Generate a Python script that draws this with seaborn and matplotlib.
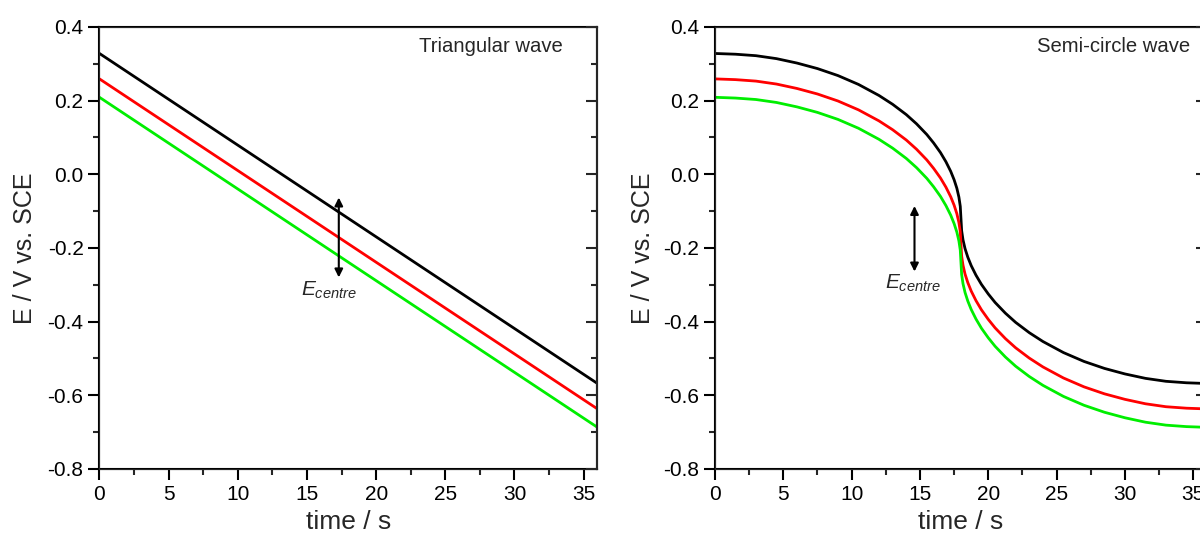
import pandas as pd
import seaborn as sns
import matplotlib.pyplot as plt
from matplotlib.ticker import MultipleLocator, FormatStrFormatter

# Triangular wave: straight lines, start and end values
TRI_TIME = [0, 36]
TRI_BLACK = [0.328, -0.568]
TRI_RED = [0.259, -0.637]
TRI_GREEN = [0.209, -0.687]

# Semi-circle wave: values
SEMI_TIME = [0, 1.5, 3, 4.5, 6, 7.5, 9, 10.5, 12, 13, 14, 14.75, 15.5, 16, 16.5, 16.9,
             17.25, 17.5, 17.7, 17.85, 17.95, 18,
             18.05, 18.15, 18.3, 18.5, 18.75, 19.1, 19.5, 20, 20.5, 21.25, 22, 23, 24,
             25.5, 27, 28.5, 30, 31.5, 33, 34.5, 36]
SEMI_BLACK = [0.328, 0.326, 0.322, 0.314, 0.302, 0.287, 0.268, 0.244, 0.214, 0.190,
              0.162, 0.137, 0.108, 0.085, 0.059, 0.034, 0.008, -0.015, -0.038, -0.062,
              -0.087, -0.120,
              -0.153, -0.178, -0.202, -0.225, -0.248, -0.274, -0.299, -0.325, -0.348,
              -0.377, -0.402, -0.430, -0.454, -0.484, -0.508, -0.527, -0.542, -0.554,
              -0.562, -0.566, -0.568]
SEMI_RED = [0.259, 0.257, 0.253, 0.245, 0.233, 0.218, 0.199, 0.175, 0.145, 0.121,
            0.093, 0.068, 0.039, 0.016, -0.010, -0.035, -0.061, -0.084, -0.107, -0.131,
            -0.156, -0.189,
            -0.222, -0.247, -0.271, -0.294, -0.317, -0.343, -0.368, -0.394, -0.417,
            -0.446, -0.471, -0.499, -0.523, -0.553, -0.577, -0.596, -0.611, -0.623,
            -0.631, -0.635, -0.637]
SEMI_GREEN = [0.209, 0.207, 0.203, 0.195, 0.183, 0.168, 0.149, 0.125, 0.095, 0.071,
              0.043, 0.018, -0.011, -0.034, -0.060, -0.085, -0.111, -0.134, -0.157,
              -0.181, -0.206, -0.239,
              -0.272, -0.297, -0.321, -0.344, -0.367, -0.393, -0.418, -0.444, -0.467,
              -0.496, -0.521, -0.549, -0.573, -0.603, -0.627, -0.646, -0.661, -0.673,
              -0.681, -0.685, -0.687]

COLORS = ["black", "#ff0000", "#00ee00"]

sns.set_style("ticks")
plt.rcParams["font.family"] = ["Liberation Sans", "DejaVu Sans"]
plt.rcParams["axes.unicode_minus"] = False
plt.rcParams["mathtext.fontset"] = "custom"
plt.rcParams["mathtext.rm"] = "Liberation Sans"
plt.rcParams["mathtext.it"] = "Liberation Sans:italic"


def style_axis(ax, ylabel_x):
    ax.set_xlim(0, 36)
    ax.set_ylim(-0.8, 0.4)
    ax.xaxis.set_major_locator(MultipleLocator(5))
    ax.xaxis.set_minor_locator(MultipleLocator(2.5))
    ax.yaxis.set_major_locator(MultipleLocator(0.2))
    ax.yaxis.set_minor_locator(MultipleLocator(0.1))
    ax.yaxis.set_major_formatter(FormatStrFormatter("%.1f"))
    for side in ["left", "right", "top", "bottom"]:
        ax.spines[side].set_visible(True)
        ax.spines[side].set_linewidth(1.5)
        ax.spines[side].set_color("black")
    ax.tick_params(axis="both", which="major", direction="out", length=8, width=1.5,
                   labelsize=15, colors="black", left=True, bottom=True,
                   right=False, top=False)
    ax.tick_params(axis="both", which="minor", direction="out", length=4, width=1.5,
                   left=True, bottom=True, right=False, top=False)
    ax.set_xlabel("time / s", fontsize=19)
    ax.set_ylabel("E / V vs. SCE", fontsize=18)
    ax.xaxis.set_label_coords(0.5, -0.092)
    ax.yaxis.set_label_coords(ylabel_x, 0.5)
    ax.grid(False)

    # right-hand ticks point inwards, no labels
    twin = ax.twinx()
    twin.set_ylim(-0.8, 0.4)
    twin.yaxis.set_major_locator(MultipleLocator(0.2))
    twin.yaxis.set_minor_locator(MultipleLocator(0.1))
    twin.tick_params(axis="y", which="major", direction="in", length=8, width=1.5,
                     labelright=False, right=True, left=False)
    twin.tick_params(axis="y", which="minor", direction="in", length=4, width=1.5,
                     right=True, left=False)
    twin.spines["right"].set_linewidth(1.5)
    twin.grid(False)


def plot_lines(ax, t, series):
    for values, color in zip(series, COLORS):
        df = pd.DataFrame({"t": t, "E": values})
        sns.lineplot(data=df, x="t", y="E", color=color, linewidth=2, ax=ax,
                     estimator=None, sort=False)


fig = plt.figure(figsize=(12, 5.38), dpi=100)
ax1 = fig.add_axes([0.0829, 0.1283, 0.415, 0.8216])
ax2 = fig.add_axes([0.5958, 0.1283, 0.41, 0.8216])

plot_lines(ax1, TRI_TIME, [TRI_BLACK, TRI_RED, TRI_GREEN])
plot_lines(ax2, SEMI_TIME, [SEMI_BLACK, SEMI_RED, SEMI_GREEN])

style_axis(ax1, -0.1255)
style_axis(ax2, -0.122)

arrow_props = dict(arrowstyle="<|-|>", color="black", lw=1.5, mutation_scale=12,
                   shrinkA=0, shrinkB=0)
ax1.annotate("", xy=(17.3, -0.063), xytext=(17.3, -0.28), arrowprops=arrow_props)
ax1.text(16.6, -0.315, "$E_{centre}$", fontsize=15, ha="center", va="center")
ax2.annotate("", xy=(14.6, -0.086), xytext=(14.6, -0.264), arrowprops=arrow_props)
ax2.text(14.5, -0.295, "$E_{centre}$", fontsize=15, ha="center", va="center")

ax1.text(0.931, 0.955, "Triangular wave", transform=ax1.transAxes, fontsize=14.6,
         ha="right", va="center")
ax2.text(0.965, 0.955, "Semi-circle wave", transform=ax2.transAxes, fontsize=14.6,
         ha="right", va="center")

fig.savefig("out.png", dpi=100)
